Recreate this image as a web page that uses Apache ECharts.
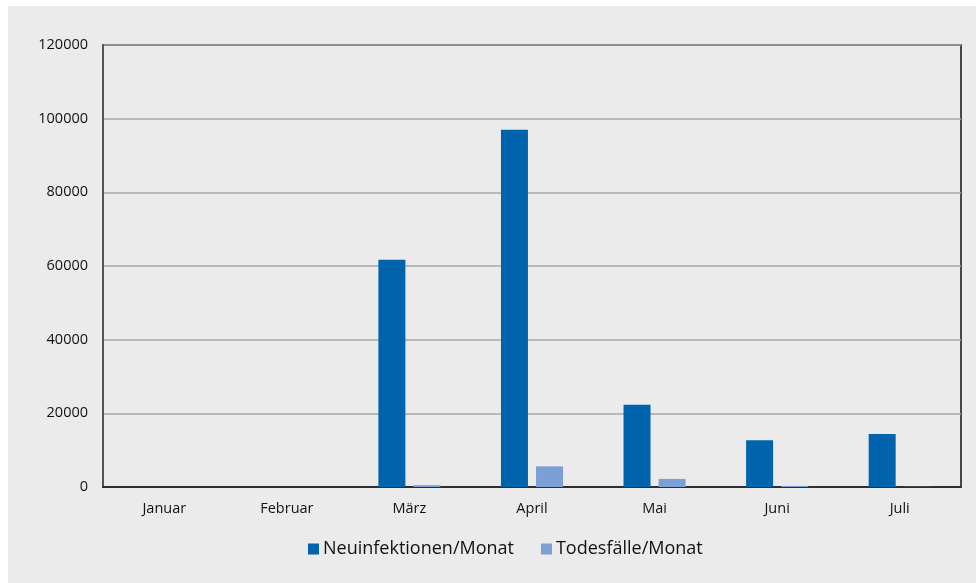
<!DOCTYPE html>
<html>
<head>
<meta charset="utf-8">
<script src="https://cdn.jsdelivr.net/npm/echarts@6/dist/echarts.min.js"></script>
<style>
  html, body { margin: 0; padding: 0; background: #ffffff; }
  #chart { position: absolute; left: 8px; top: 6px; width: 968px; height: 577px; background: #ebebeb; }
</style>
</head>
<body>
<div id="chart"></div>
<script>
// Monatswerte 2020
const months = ['Januar', 'Februar', 'März', 'April', 'Mai', 'Juni', 'Juli'];
const newInfections = [0, 0, 61700, 97000, 22300, 12700, 14400];
const deaths = [0, 0, 500, 5600, 2200, 300, 60];
const seriesNames = ['Neuinfektionen/Monat', 'Todesfälle/Monat'];
const yTicks = { min: 0, max: 120000, interval: 20000 };

const fontFamily = '"Open Sans", "Noto Sans", sans-serif';
const chart = echarts.init(document.getElementById('chart'), null, { renderer: 'canvas' });

chart.setOption({
  backgroundColor: '#ebebeb',
  animation: false,
  textStyle: { fontFamily: fontFamily },
  grid: {
    left: 95, top: 39, right: 15, bottom: 96,
    show: true, borderColor: '#111', borderWidth: 1.5, backgroundColor: 'transparent'
  },
  legend: {
    data: seriesNames,
    bottom: 20,
    left: 295,
    itemWidth: 11, itemHeight: 11, itemGap: 27,
    icon: 'rect',
    textStyle: { fontSize: 18, color: '#111', fontFamily: fontFamily, padding: [0, 0, 0, -1] }
  },
  xAxis: {
    type: 'category',
    data: months,
    axisTick: { show: false },
    axisLine: { lineStyle: { color: '#111', width: 1.5 } },
    axisLabel: { color: '#111', fontSize: 14.5, margin: 14 }
  },
  yAxis: {
    type: 'value',
    min: yTicks.min, max: yTicks.max, interval: yTicks.interval,
    axisLine: { show: true, lineStyle: { color: '#555', width: 2 } },
    axisTick: { show: false },
    axisLabel: { color: '#111', fontSize: 14.5, margin: 15, formatter: v => String(v) },
    splitLine: { lineStyle: { color: '#a8a8a8', width: 1.5 } }
  },
  series: [
    {
      name: seriesNames[0], type: 'bar', data: newInfections,
      barWidth: 27, barGap: '30%',
      itemStyle: { color: '#0064ad' }
    },
    {
      name: seriesNames[1], type: 'bar', data: deaths,
      barWidth: 27, barGap: '30%',
      itemStyle: { color: '#7c9fd6' }
    }
  ]
});
</script>
</body>
</html>
